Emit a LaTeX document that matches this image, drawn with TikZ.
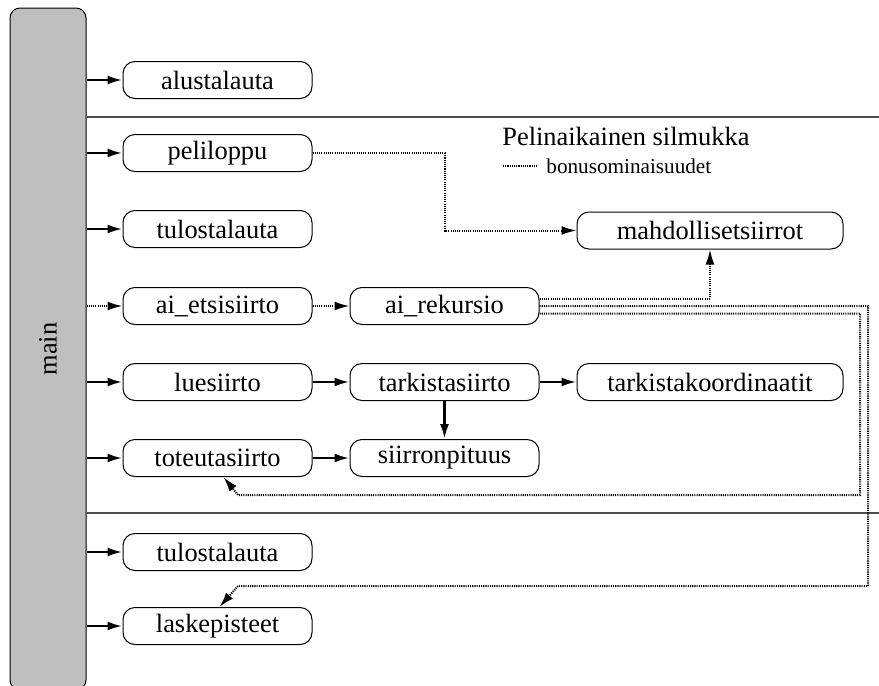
\documentclass[tikz,border=0pt]{standalone}
\usepackage{fontspec}
\setmainfont{Liberation Serif}
\usetikzlibrary{arrows,arrows.meta}
\definecolor{barfill}{gray}{0.75}
\definecolor{sepline}{gray}{0.3}

\begin{document}
\begin{tikzpicture}[x=0.5pt,y=-0.5pt]
		
		\tikzset{func/.style = {shape=rectangle,rounded corners=6pt,fill=white,draw,line width=0.5pt,minimum width=94.5pt,minimum height=18.5pt,inner sep=0pt,font=\fontsize{13.2}{15}\selectfont}}
		\tikzset{widefunc/.style = {func,minimum width=133pt}}
		\tikzset{mainbar/.style = {shape=rectangle,rounded corners=5pt,fill=barfill,draw,line width=0.5pt,rotate=90,minimum width=341pt,minimum height=38pt,font=\fontsize{13.2}{15}\selectfont}}
		\tikzset{edge/.style = {->,> = {Latex[length=7.5pt,width=4.5pt]},line width=1.3pt}}
		\tikzset{bonus/.style = {->,> = {Latex[length=7.5pt,width=4.5pt]},line width=1pt,dash pattern=on 0.55pt off 0.55pt}}
		\tikzset{sep/.style = {draw=sepline,line width=0.6pt}}
		\useasboundingbox (0,0) rectangle (879,686);
		% vertices
		\node[mainbar] (main) at (48,349) {main};
		\node[func] (alu) at (217.5,80) {alustalauta};
		\node[func] (peli) at (217.5,153) {peliloppu};
		\node[func] (tulo1) at (217.5,229) {tulostalauta};
		\node[func] (etsi) at (217.5,306) {ai\_etsisiirto};
		\node[func] (lue) at (217.5,382) {luesiirto};
		\node[func] (tote) at (217.5,458) {toteutasiirto};
		\node[func] (tulo2) at (217.5,552) {tulostalauta};
		\node[func] (laske) at (217.5,626) {laskepisteet};
		\node[func] (rek) at (444.5,306) {ai\_rekursio};
		\node[func] (tark) at (444.5,382) {tarkistasiirto};
		\node[func] (pit) at (444.5,458) {siirronpituus};
		\node[widefunc] (mahd) at (710,230.5) {mahdollisetsiirrot};
		\node[widefunc] (koord) at (710,382) {tarkistakoordinaatit};
		% legend
		\node[anchor=west,inner sep=0pt,font=\fontsize{13.2}{15}\selectfont] (loop) at (502,136) {Pelinaikainen silmukka};
		\node[anchor=west,inner sep=0pt,font=\fontsize{10.6}{12}\selectfont] (bonustxt) at (546,166) {bonusominaisuudet};
		\coordinate (leg) at (503,166);
		\draw[line width=1pt,dash pattern=on 0.55pt off 0.55pt] (leg) -- ([xshift=-4.5pt]bonustxt.west);
		% separators
		\draw[sep] (main.south |- 0,117) -- (879,117);
		\draw[sep] (main.south |- 0,513) -- (879,513);
		%edges
		\draw[edge] (main.south |- alu) -- (alu);
		\draw[edge] (main.south |- peli) -- (peli);
		\draw[edge] (main.south |- tulo1) -- (tulo1);
		\draw[bonus] (main.south |- etsi) -- (etsi);
		\draw[edge] (main.south |- lue) -- (lue);
		\draw[edge] (main.south |- tote) -- (tote);
		\draw[edge] (main.south |- tulo2) -- (tulo2);
		\draw[edge] (main.south |- laske) -- (laske);
		\draw[edge] (lue) -- (tark);
		\draw[edge] (tark) -- (koord);
		\draw[edge] (tark) -- (pit);
		\draw[edge] (tote) -- (pit);
		\draw[bonus] (etsi) -- (rek);
		\draw[bonus] (peli) -- (peli -| rek) |- (mahd);
		\draw[bonus] ([yshift=3.75pt]rek.east) -| (mahd);
		\draw[bonus] (rek.east) -- (868,306) |- (238,586) -- ([xshift=1pt]laske.north);
		\draw[bonus] ([yshift=-3.75pt]rek.east) -- (860,313.5) |- (238,495) -- ([xshift=3pt]tote.south);
		\end{tikzpicture}
\end{document}
